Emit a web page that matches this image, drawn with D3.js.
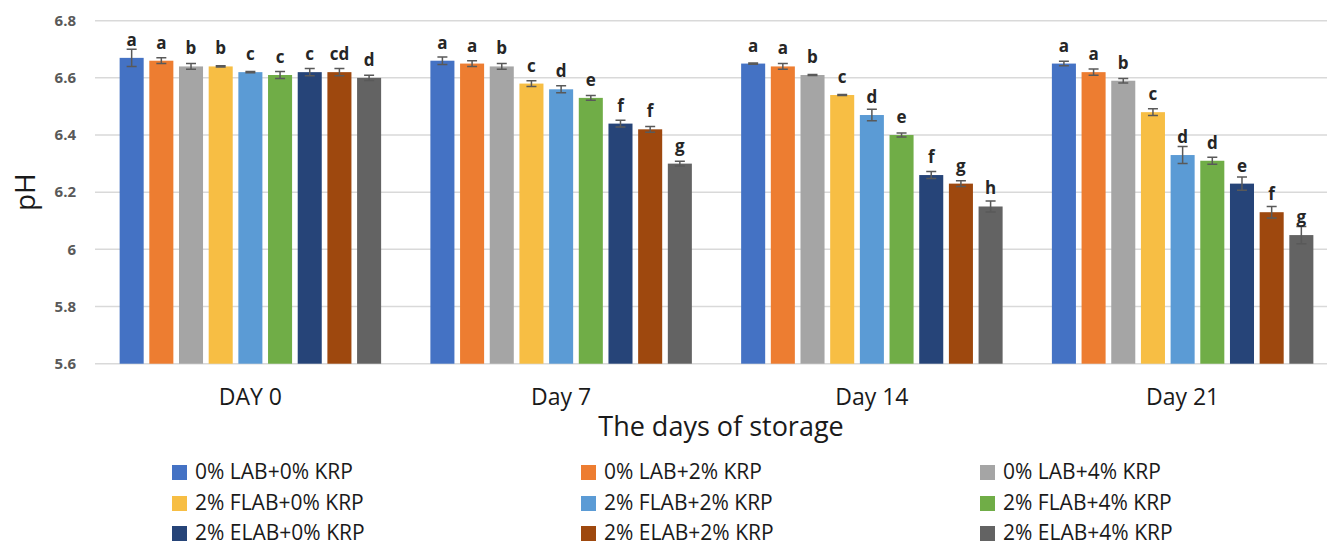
<!DOCTYPE html>
<meta charset="utf-8">
<style>
  body { margin: 0; background: #fff; }
  text { font-family: "Open Sans", sans-serif; }
  .grid line { stroke: #d9d9d9; stroke-width: 1.5px; }
  .tick-label { font-size: 15px; font-weight: 700; fill: #595959; text-anchor: end; }
  .cat-label { font-size: 23px; fill: #1a1a1a; text-anchor: middle; }
  .letter { font-size: 17px; font-weight: 700; fill: #262626; text-anchor: middle; }
  .legend text { font-size: 21px; fill: #1a1a1a; }
</style>
<body>
<svg width="1327" height="545"></svg>
<script src="https://d3js.org/d3.v7.min.js"></script>
<script>

var days = ["DAY 0", "Day 7", "Day 14", "Day 21"];
var treatments = ["0% LAB+0% KRP", "0% LAB+2% KRP", "0% LAB+4% KRP",
                  "2% FLAB+0% KRP", "2% FLAB+2% KRP", "2% FLAB+4% KRP",
                  "2% ELAB+0% KRP", "2% ELAB+2% KRP", "2% ELAB+4% KRP"];
var colors = ["#4472c4", "#ed7d31", "#a5a5a5", "#f7be44", "#5b9bd5", "#70ad47", "#264478", "#9e480e", "#636363"];

// pH per day, one value per treatment
var ph = [
  [6.67, 6.66, 6.64, 6.64, 6.62, 6.61, 6.62, 6.62, 6.60],
  [6.66, 6.65, 6.64, 6.58, 6.56, 6.53, 6.44, 6.42, 6.30],
  [6.65, 6.64, 6.61, 6.54, 6.47, 6.40, 6.26, 6.23, 6.15],
  [6.65, 6.62, 6.59, 6.48, 6.33, 6.31, 6.23, 6.13, 6.05]
];
var sd = [
  [0.03, 0.01, 0.01, 0.002, 0.002, 0.012, 0.013, 0.013, 0.009],
  [0.013, 0.01, 0.01, 0.01, 0.012, 0.008, 0.012, 0.01, 0.008],
  [0.002, 0.01, 0.002, 0.002, 0.02, 0.007, 0.012, 0.01, 0.019],
  [0.008, 0.011, 0.008, 0.012, 0.03, 0.012, 0.023, 0.02, 0.03]
];
var letters = [
  ["a", "a", "b", "b", "c", "c", "c", "cd", "d"],
  ["a", "a", "b", "c", "d", "e", "f", "f", "g"],
  ["a", "a", "b", "c", "d", "e", "f", "g", "h"],
  ["a", "a", "b", "c", "d", "d", "e", "f", "g"]
];
var yTicks = [5.6, 5.8, 6, 6.2, 6.4, 6.6, 6.8];

var svg = d3.select("svg");

var x0 = d3.scaleBand().domain(days).range([95, 1338]);
var x1 = d3.scaleBand().domain(d3.range(9)).range([0, x0.bandwidth()])
    .paddingInner(0.19).paddingOuter(0.83);
var y = d3.scaleLinear().domain([5.6, 6.8]).range([363.7, 20.7]);

// gridlines
svg.append("g").attr("class", "grid")
  .selectAll("line").data(yTicks).join("line")
    .attr("x1", 95).attr("x2", 1327)
    .attr("y1", function(d) { return y(d); })
    .attr("y2", function(d) { return y(d); });

svg.append("g").selectAll("text").data(yTicks).join("text")
    .attr("class", "tick-label")
    .attr("x", 76)
    .attr("y", function(d) { return y(d); })
    .attr("dy", "0.35em")
    .text(function(d) { return d3.format("")(d); });

svg.append("text")
    .attr("transform", "translate(35," + y(6.2) + ") rotate(-90)")
    .attr("text-anchor", "middle")
    .style("font-size", "28px")
    .style("fill", "#1a1a1a")
    .text("pH");

var rows = [];
days.forEach(function(day, i) {
  treatments.forEach(function(t, j) {
    rows.push({day: day, k: j, v: ph[i][j], e: sd[i][j], l: letters[i][j]});
  });
});

var bar = svg.append("g").selectAll("g").data(rows).join("g")
    .attr("transform", function(d) { return "translate(" + (x0(d.day) + x1(d.k)) + ",0)"; });

bar.append("rect")
    .attr("y", function(d) { return y(d.v); })
    .attr("width", x1.bandwidth())
    .attr("height", function(d) { return y(5.6) - y(d.v); })
    .style("fill", function(d) { return colors[d.k]; });

// error bars
var bw = x1.bandwidth(), cap = 5;
bar.append("path")
    .attr("d", function(d) {
      var c = bw / 2, t = y(d.v + d.e), b = y(d.v - d.e);
      return "M" + c + "," + t + "V" + b +
             "M" + (c - cap) + "," + t + "H" + (c + cap) +
             "M" + (c - cap) + "," + b + "H" + (c + cap);
    })
    .style("stroke", "#595959").style("stroke-width", 1.5).style("fill", "none");

bar.append("text")
    .attr("class", "letter")
    .attr("x", bw / 2)
    .attr("y", function(d) { return y(d.v) - 12; })
    .text(function(d) { return d.l; });

svg.append("g").selectAll("text").data(days).join("text")
    .attr("class", "cat-label")
    .attr("x", function(d) { return x0(d) + x0.bandwidth() / 2; })
    .attr("y", 405)
    .text(function(d) { return d; });

svg.append("text")
    .attr("x", 721).attr("y", 436)
    .attr("text-anchor", "middle")
    .style("font-size", "27px")
    .style("fill", "#1a1a1a")
    .text("The days of storage");

// legend, 3 columns x 3 rows
var colX = [172, 581, 980], rowY = [472, 503, 533];
var leg = svg.append("g").attr("class", "legend")
  .selectAll("g").data(treatments).join("g")
    .attr("transform", function(d, i) { return "translate(" + colX[i % 3] + "," + rowY[Math.floor(i / 3)] + ")"; });

leg.append("rect").attr("x", 0).attr("y", -7).attr("width", 15).attr("height", 15)
    .style("fill", function(d, i) { return colors[i]; });
leg.append("text").attr("x", 23).attr("dy", "0.35em").text(function(d) { return d; });

</script>
</body>
